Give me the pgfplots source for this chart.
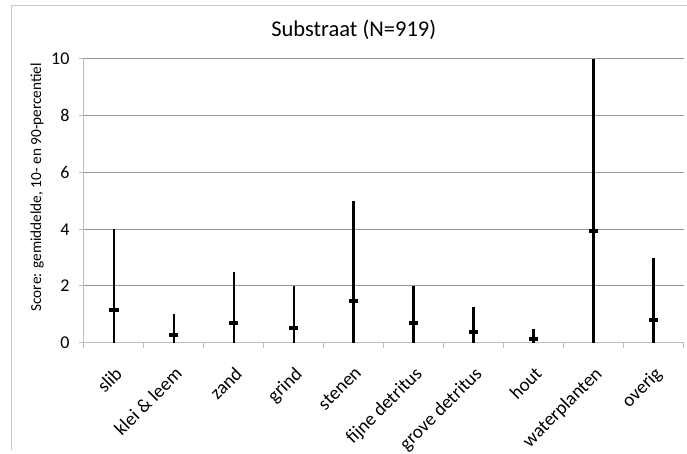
\documentclass[border=0pt]{standalone}
\usepackage{pgfplots}
\pgfplotsset{compat=1.18}
\usepackage{fontspec}
\setmainfont{Carlito}

\definecolor{gridgray}{RGB}{152,152,152}
\definecolor{axisgray}{RGB}{190,190,190}
\definecolor{framegray}{RGB}{200,200,200}

\begin{document}
\begin{tikzpicture}
  % picture area: 687 x 450, plot area starts at (84,107)
  \path (-84pt,-107pt) rectangle (603pt,343pt);
  \begin{axis}[
    at={(0pt,0pt)}, anchor=south west,
    scale only axis,
    width=600pt, height=284pt,
    xmin=0.5, xmax=10.5,
    ymin=0, ymax=10,
    axis x line*=bottom,
    axis y line*=left,
    axis line style={axisgray, line width=1pt},
    xtick={0.5,1.5,...,10.5},
    xticklabels={},
    extra x ticks={1,...,10},
    extra x tick labels={slib, klei \& leem, zand, grind, stenen, fijne detritus,
      grove detritus, hout, waterplanten, overig},
    extra x tick style={major tick length=0pt, grid=none,
      tick label style={font=\fontsize{19}{22}\selectfont}},
    ytick={0,2,...,10},
    tick style={axisgray, line width=1pt},
    major tick length=5pt,
    tick align=outside,
    ymajorgrids=true,
    grid style={gridgray, line width=1pt},
    /pgf/number format/assume math mode=true,
    yticklabel style={font=\fontsize{18}{21}\selectfont, xshift=-6pt},
    xticklabel style={rotate=45, anchor=north east, inner sep=0pt,
      xshift=-16pt, yshift=-16pt},
    ylabel={Score: gemiddelde, 10- en 90-percentiel},
    ylabel style={font=\fontsize{15.3}{18}\selectfont,
      at={(axis description cs:-0.078,0.548)}, anchor=center},
    title={Substraat (N=919)},
    title style={font=\fontsize{22.5}{26}\selectfont,
      at={(axis description cs:0.45,1.08)}, anchor=center},
  ]
    % 10- tot 90-percentiel (ondergrens overal 0)
    \addplot[ycomb, black, line width=2.5pt, mark=none]
    coordinates {
      (1, 4.0) (2, 1.0) (3, 2.5) (4, 2.0) (5, 5.0)
      (6, 2.0) (7, 1.25) (8, 0.5) (9, 10.0) (10, 3.0)
    };
    % gemiddelde
    \addplot[only marks, black, mark=-, mark size=4.6pt,
      mark options={line width=3.7pt}]
    coordinates {
      (1, 1.15) (2, 0.28) (3, 0.70) (4, 0.53) (5, 1.48)
      (6, 0.70) (7, 0.39) (8, 0.12) (9, 3.94) (10, 0.81)
    };
  \end{axis}
  \draw[framegray, line width=1pt] (-72.3pt,-107pt) -- (-72.3pt,337pt) -- (603pt,337pt);
\end{tikzpicture}
\end{document}
